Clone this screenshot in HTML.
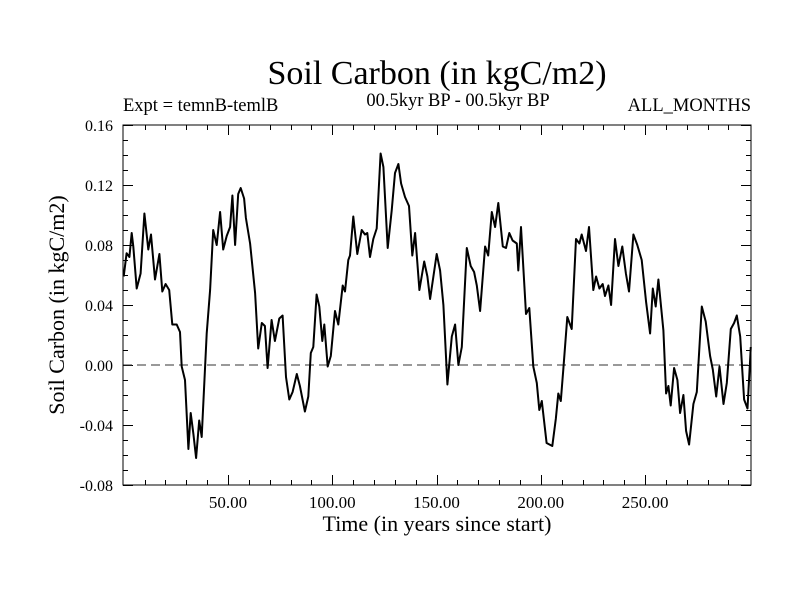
<!DOCTYPE html>
<html><head><meta charset="utf-8"><style>
body{margin:0;background:#fff}
svg{display:block}
text{font-family:"Liberation Serif",serif;fill:#000}
</style></head><body>
<svg id="c" width="800" height="600">
<rect x="0" y="0" width="800" height="600" fill="#fff"/>
<text x="437" y="84" font-size="34" text-anchor="middle">Soil Carbon (in kgC/m2)</text>
<text x="123" y="111" font-size="18.5">Expt = temnB-temlB</text>
<text x="458" y="106" font-size="18.5" text-anchor="middle">00.5kyr BP - 00.5kyr BP</text>
<text x="751" y="111" font-size="18.5" text-anchor="end">ALL_MONTHS</text>
<text x="437" y="531" font-size="22" text-anchor="middle">Time (in years since start)</text>
<text transform="translate(64,305) rotate(-90)" font-size="22" text-anchor="middle">Soil Carbon (in kgC/m2)</text>
<g id="ticks"></g>
<g id="plot"></g>
<rect x="123" y="125" width="628" height="360" fill="none" stroke="#000" stroke-width="1"/>
</svg>
<script>
const years=[0,1.4,2.7,3.8,4.6,6.2,8.1,9.9,11.8,13.1,15.0,17.1,18.5,20.1,21.8,23.3,25.4,27.0,27.8,29.4,31.0,32.1,33.4,34.7,36.2,37.4,39.8,41.4,42.9,44.6,46.2,47.7,49.4,51.0,52.1,53.4,54.9,56.1,57.7,58.6,60.6,63.0,64.5,66.2,67.7,69.0,70.9,72.5,74.6,76.2,77.8,79.4,81.0,83.0,84.5,86.9,88.5,89.7,90.9,92.5,93.8,95.2,96.2,97.8,99.3,101.3,102.9,105.0,106.1,107.7,108.5,110.1,112.0,114.1,115.7,116.8,118.1,119.7,121.3,123.2,124.5,126.6,128.5,130.1,131.7,133.0,134.9,136.8,138.4,139.7,141.8,144.1,145.6,146.9,148.5,150.1,151.7,153.3,155.2,157.3,158.9,160.5,162.1,164.5,166.4,168.0,169.3,170.9,173.3,174.8,176.5,178.1,179.6,181.8,183.3,184.9,186.5,188.5,189.2,190.5,192.9,194.5,196.4,198.1,199.3,200.5,202.8,205.5,207.2,208.4,209.6,210.8,212.7,214.8,216.9,218.5,219.6,221.7,223.1,225.2,226.5,228.1,229.7,230.8,232.4,233.7,235.6,237.2,239.1,240.8,242.3,244.4,246.3,248.4,250.5,252.4,253.7,255.1,256.4,258.8,260.1,261.2,262.3,263.9,265.5,266.8,268.4,269.7,271.1,273.2,274.8,277.2,279.1,281.2,282.5,284.1,285.7,287.6,289.2,291.1,292.7,294.0,295.6,297.5,299.1,300.7];
const carbon=[0.059,0.0745,0.072,0.088,0.079,0.051,0.061,0.101,0.077,0.087,0.057,0.074,0.049,0.054,0.050,0.027,0.027,0.022,-0.001,-0.010,-0.056,-0.032,-0.046,-0.062,-0.037,-0.048,0.021,0.050,0.090,0.080,0.102,0.077,0.086,0.092,0.113,0.080,0.114,0.118,0.111,0.098,0.081,0.048,0.011,0.028,0.026,-0.002,0.030,0.016,0.031,0.033,-0.008,-0.023,-0.018,-0.006,-0.014,-0.031,-0.021,0.008,0.012,0.047,0.039,0.016,0.027,-0.001,0.006,0.036,0.027,0.053,0.049,0.070,0.073,0.099,0.074,0.090,0.087,0.088,0.072,0.084,0.091,0.141,0.132,0.078,0.103,0.128,0.134,0.121,0.112,0.106,0.073,0.088,0.050,0.069,0.059,0.044,0.059,0.074,0.063,0.040,-0.013,0.019,0.027,0.000,0.012,0.078,0.066,0.062,0.053,0.036,0.079,0.073,0.102,0.092,0.108,0.079,0.078,0.088,0.083,0.081,0.063,0.092,0.034,0.038,-0.001,-0.012,-0.030,-0.024,-0.052,-0.054,-0.036,-0.019,-0.024,-0.003,0.032,0.024,0.084,0.081,0.087,0.076,0.092,0.050,0.059,0.051,0.054,0.046,0.053,0.040,0.084,0.066,0.079,0.061,0.049,0.087,0.080,0.070,0.042,0.021,0.051,0.039,0.057,0.023,-0.019,-0.014,-0.027,-0.002,-0.010,-0.032,-0.020,-0.044,-0.053,-0.026,-0.018,0.039,0.029,0.006,-0.003,-0.021,-0.001,-0.026,-0.012,0.024,0.028,0.033,0.019,-0.023,-0.029,0.012];
const yTickValues=[0.16,0.12,0.08,0.04,0.00,-0.04,-0.08];
const yTickLabels=["0.16","0.12","0.08","0.04","0.00","-0.04","-0.08"];
const xTickValues=[50,100,150,200,250];
const xTickLabels=["50.00","100.00","150.00","200.00","250.00"];
const X0=123,X1=751,Y0=485,Y1=125,XMIN=-0.35,XMAX=300.8,YMIN=-0.08,YMAX=0.16;
const xs=t=>X0+(t-XMIN)/(XMAX-XMIN)*(X1-X0);
const ys=v=>Y0-(v-YMIN)/(YMAX-YMIN)*(Y0-Y1);
const NS="http://www.w3.org/2000/svg";
const tk=document.getElementById('ticks'),pl=document.getElementById('plot');
function line(g,x1,y1,x2,y2,w){const l=document.createElementNS(NS,'line');l.setAttribute('x1',x1);l.setAttribute('y1',y1);l.setAttribute('x2',x2);l.setAttribute('y2',y2);l.setAttribute('stroke','#000');l.setAttribute('stroke-width',w||1);g.appendChild(l);return l;}
for(let v=-0.08;v<=0.1601;v+=0.01){const y=Math.round(ys(v))+0.5;const maj=Math.abs(Math.round(v*100)%4)===0;const L=maj?10:5;
const a=line(tk,X0,y,X0+L,y);
const b=line(tk,X1-L,y,X1,y);}
for(let t=10;t<300;t+=10){const x=Math.round(xs(t))+0.5;const L=(t%50===0)?10:5;
const a=line(tk,x,Y0-L,x,Y0);
const b=line(tk,x,Y1,x,Y1+L);}
yTickValues.forEach((v,i)=>{const t=document.createElementNS(NS,'text');t.setAttribute('x',113);t.setAttribute('y',ys(v)+6);t.setAttribute('font-size','16');t.setAttribute('text-anchor','end');t.textContent=yTickLabels[i];


tk.appendChild(t);});
xTickValues.forEach((v,i)=>{const t=document.createElementNS(NS,'text');t.setAttribute('x',xs(v));t.setAttribute('y',508);t.setAttribute('font-size','17');t.setAttribute('text-anchor','middle');t.textContent=xTickLabels[i];


tk.appendChild(t);});
const z=line(pl,X0,ys(0),X1,ys(0),1);z.setAttribute('stroke-dasharray','9,5');z.setAttribute('stroke','#333');


const p=document.createElementNS(NS,'polyline');
p.setAttribute('points',years.map((t,i)=>xs(t).toFixed(1)+','+ys(carbon[i]).toFixed(1)).join(' '));
p.setAttribute('fill','none');p.setAttribute('stroke','#000');p.setAttribute('stroke-width','2');p.setAttribute('stroke-linejoin','round');


pl.appendChild(p);
</script>
</body></html>
